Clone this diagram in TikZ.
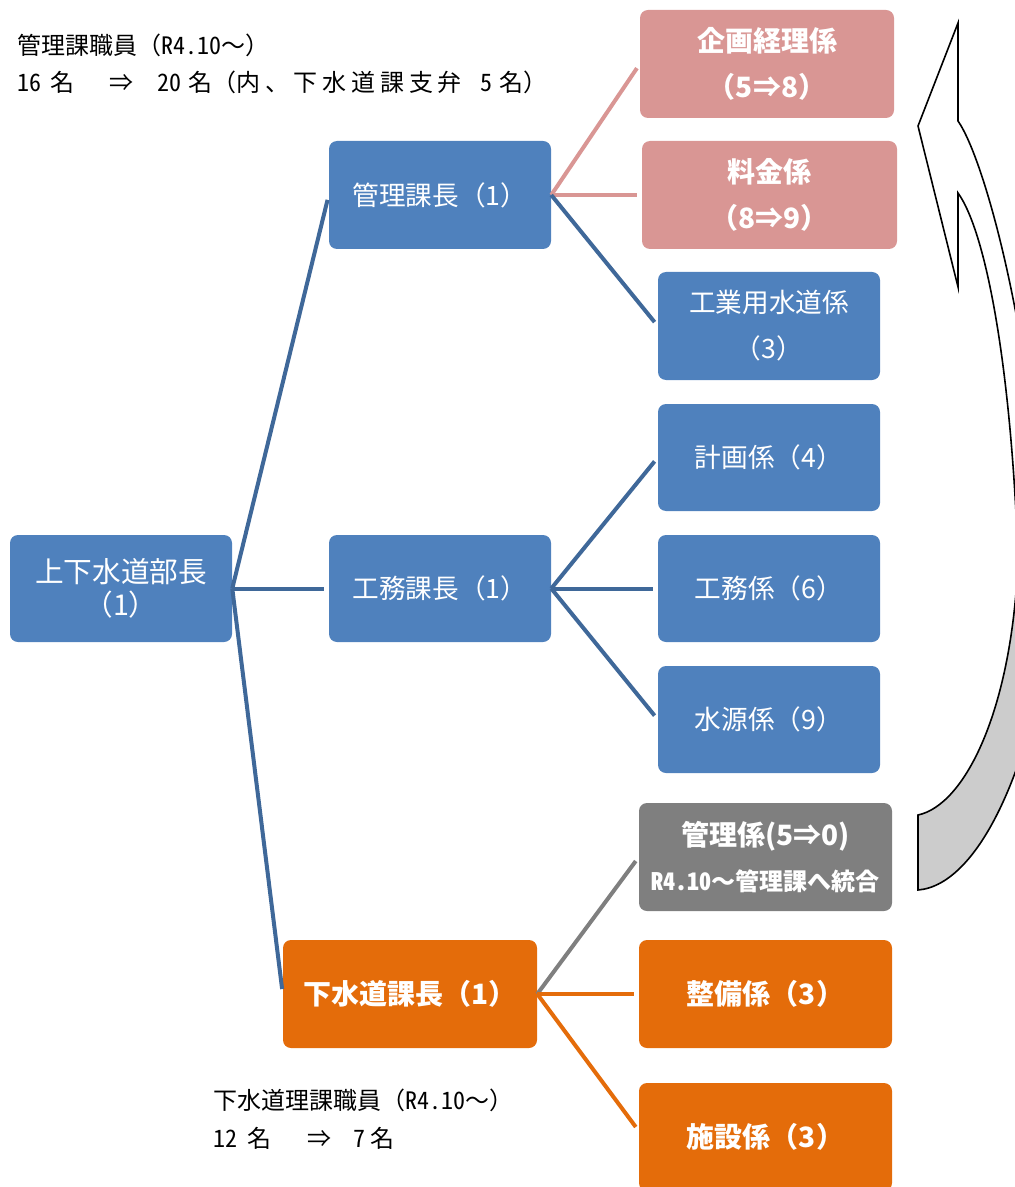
\documentclass[tikz,border=0pt]{standalone}
\usepackage{fontspec}
\setmainfont{Noto Sans CJK JP}
\newfontfamily\hwfont[RawFeature=+hwid]{Noto Sans CJK JP}
\newfontfamily\widefont[LetterSpace=20]{Noto Sans CJK JP}
\newcommand{\hw}[1]{{\hwfont #1}}
\newcommand{\gap}[1]{\hspace*{#1pt}}
\usetikzlibrary{calc}
\definecolor{boxblue}{HTML}{4F81BD}
\definecolor{lineblue}{HTML}{3F6899}
\definecolor{boxpink}{HTML}{D99694}
\definecolor{boxgrey}{HTML}{7F7F7F}
\definecolor{boxorange}{HTML}{E46C0A}
\definecolor{arrowgrey}{HTML}{CCCCCC}
\begin{document}
\begin{tikzpicture}[x=0.75pt,y=-0.75pt,
  box/.style={rectangle, rounded corners=6pt, text=white, align=center, inner sep=0pt},
  bluebox/.style={box, fill=boxblue, minimum width=166.5pt, minimum height=80.25pt, font=\fontsize{20}{34.5}\selectfont},
  boldbox/.style={box, minimum width=190.5pt, minimum height=81pt, font=\fontsize{21}{34.5}\selectfont\bfseries},
  pinkbox/.style={boldbox, fill=boxpink},
  greybox/.style={boldbox, fill=boxgrey},
  orangebox/.style={boldbox, fill=boxorange},
  conn/.style={line width=3pt, shorten >=3.75pt},
  note/.style={anchor=west, inner sep=0pt, font=\fontsize{18}{20}\selectfont},
]
\useasboundingbox (0,0) rectangle (1014,1187);

% curved arrow
\path[fill=arrowgrey, draw=black, line width=1.2pt]
  (918,815) .. controls (965,805) and (1012,710) .. (1018,560) -- (1060,560)
  .. controls (1040,760) and (980,885) .. (918,890) -- cycle;
\path[fill=white, draw=black, line width=1.2pt]
  (958,23) -- (918,126) -- (958,287) -- (958,193)
  .. controls (988,235) and (1012,380) .. (1018,560) -- (1060,560) -- (1042,520)
  .. controls (1030,330) and (985,160) .. (958,121) -- cycle;

% boxes
\node[bluebox, font=\fontsize{21.5}{25}\selectfont] (root) at (121,588.5) {上下水道部長\\（1）};
\node[bluebox, minimum height=81pt] (kanri) at (440,195) {管理課長（1）};
\node[bluebox] (koumu) at (440,588.5) {工務課長（1）};
\node[orangebox] (gesui) at (410,994) {下水道課長（1）};

\node[pinkbox] (kikaku) at (767,64) {企画経理係\\（5⇒8）};
\node[pinkbox, minimum width=191.25pt] (ryokin) at (769.5,195) {料金係\\（8⇒9）};
\node[bluebox, minimum height=81pt] (kogyo) at (769,326) {工業用水道係\\（3）};
\node[bluebox] (keikaku) at (769,457.5) {計画係（4）};
\node[bluebox] (koumukei) at (769,588.5) {工務係（6）};
\node[bluebox] (suigen) at (769,719.5) {水源係（9）};
\node[greybox, minimum width=189.75pt, font=\fontsize{21}{33.75}\selectfont\bfseries] (kanrikei) at (765.5,857)
  {管理係(5⇒0)\\{\fontsize{18}{18}\selectfont\hw{\bfseries R4.10}～管理課へ統合}};
\node[orangebox, minimum width=189.75pt] (seibi) at (765.5,994) {整備係（3）};
\node[orangebox, minimum width=189.75pt] (shisetsu) at (765.5,1137) {施設係（3）};

% connectors
\draw[conn, lineblue] (root.east) -- (kanri.west);
\draw[conn, lineblue] (root.east) -- (koumu.west);
\draw[conn, lineblue] (root.east) -- (gesui.west);

\draw[conn, boxpink] (kanri.east) -- (kikaku.west);
\draw[conn, boxpink] (kanri.east) -- (ryokin.west);
\draw[conn, lineblue] (kanri.east) -- (kogyo.west);

\draw[conn, lineblue] (koumu.east) -- (keikaku.west);
\draw[conn, lineblue] (koumu.east) -- (koumukei.west);
\draw[conn, lineblue] (koumu.east) -- (suigen.west);

\draw[conn, boxgrey] (gesui.east) -- (kanrikei.west);
\draw[conn, boxorange] (gesui.east) -- (seibi.west);
\draw[conn, boxorange] (gesui.east) -- ($(shisetsu.west)+(0,-6)$);

% notes
\node[note] (n1) at (17,45) {管理課職員（\hw{R4.10}～）};
\node[note] (n2) at (17,82) {\hw{16}\gap{6.75}名\gap{26.25}⇒\gap{18}\hw{20}\gap{5.25}名（{\widefont 内、下水道課支弁}\gap{14}\hw{5}\gap{5}名）};
\node[note] (n3) at (213,1100) {下水道理課職員（\hw{R4.10}～）};
\node[note] (n4) at (213,1138) {\hw{12}\gap{7.5}名\gap{27}⇒\gap{16.5}\hw{7}\gap{3.75}名};
\end{tikzpicture}
\end{document}
